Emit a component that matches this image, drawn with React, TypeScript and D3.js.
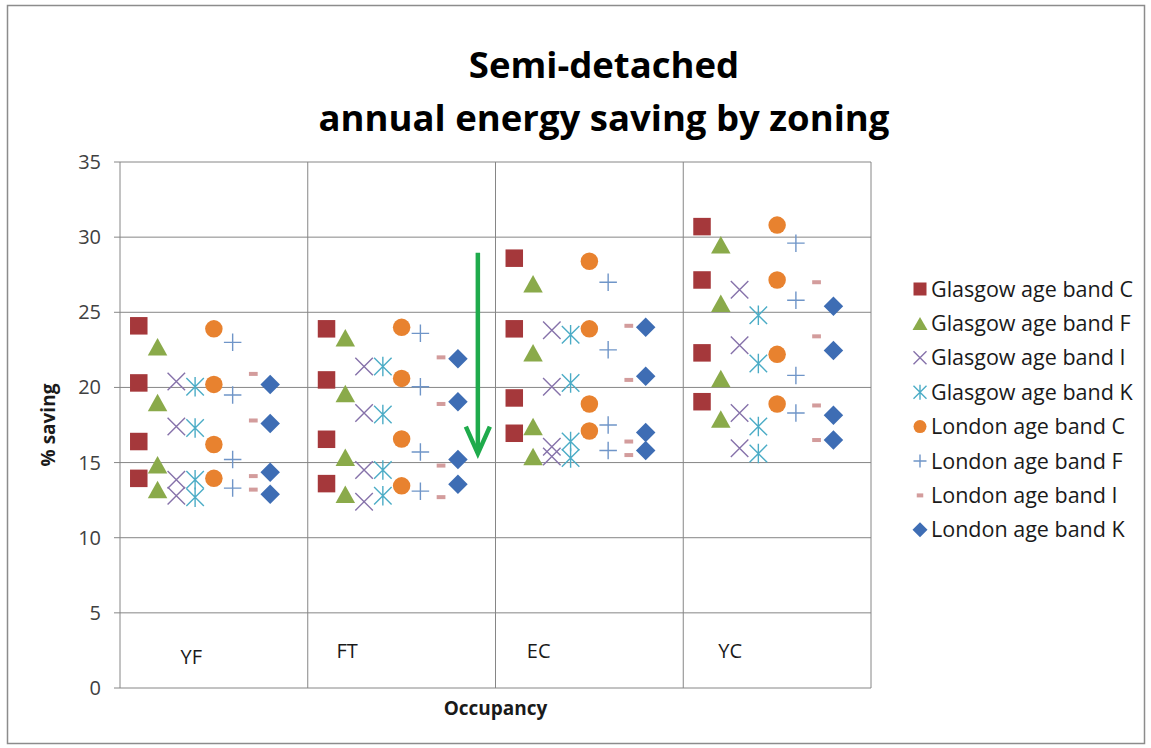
import * as d3 from "d3";

const categories = ["YF", "FT", "EC", "YC"];
// where the occupancy text boxes sit, in x units
const categoryLabelX = [0.38, 1.21, 2.23, 3.25];
const categoryLabelY = [1.6, 2.0, 2.0, 2.0];

const seriesNames = [
  "Glasgow age band C",
  "Glasgow age band F",
  "Glasgow age band I",
  "Glasgow age band K",
  "London age band C",
  "London age band F",
  "London age band I",
  "London age band K",
];
const seriesOffsets = [0.1, 0.2, 0.3, 0.4, 0.5, 0.6, 0.71, 0.8];
const seriesShapes = ["square", "triangle", "x", "star", "circle", "plus", "dash", "diamond"];
const seriesColors = ["#a5383b", "#8aaa4a", "#8672aa", "#4bacc6", "#e8822f", "#6f95c8", "#d39c9c", "#3e6db4"];

// four runs per occupancy, per series
const glasgowC = [[24.1, 20.3, 16.4, 13.95], [23.9, 20.5, 16.55, 13.6], [28.6, 23.9, 19.3, 16.95], [30.7, 27.15, 22.3, 19.05]];
const glasgowF = [[22.7, 19.0, 14.85, 13.2], [23.3, 19.6, 15.35, 12.9], [26.9, 22.3, 17.4, 15.4], [29.5, 25.6, 20.6, 17.9]];
const glasgowI = [[20.4, 17.4, 13.85, 12.8], [21.4, 18.3, 14.5, 12.4], [23.8, 20.05, 16.05, 15.4], [26.5, 22.8, 18.3, 15.95]];
const glasgowK = [[20.05, 17.3, 13.85, 12.7], [21.4, 18.2, 14.5, 12.8], [23.5, 20.3, 16.4, 15.3], [24.8, 21.6, 17.4, 15.6]];
const londonC = [[23.9, 20.2, 16.2, 13.95], [24.0, 20.6, 16.57, 13.45], [28.4, 23.9, 18.9, 17.1], [30.8, 27.15, 22.2, 18.9]];
const londonF = [[23.0, 19.5, 15.2, 13.3], [23.6, 20.05, 15.7, 13.1], [27.0, 22.5, 17.5, 15.8], [29.6, 25.8, 20.8, 18.3]];
const londonI = [[20.9, 17.8, 14.1, 13.2], [22.0, 18.9, 14.8, 12.7], [24.1, 20.5, 16.4, 15.5], [27.0, 23.4, 18.8, 16.5]];
const londonK = [[20.2, 17.6, 14.35, 12.9], [21.9, 19.05, 15.2, 13.55], [24.0, 20.75, 17.0, 15.8], [25.4, 22.45, 18.15, 16.5]];
const seriesValues = [glasgowC, glasgowF, glasgowI, glasgowK, londonC, londonF, londonI, londonK];

const yTicks = [0, 5, 10, 15, 20, 25, 30, 35];
const xGrid = [0, 1, 2, 3, 4];

// green arrow drawn on top of the chart
const arrowX = 1.906;
const arrowFrom = 28.96;
const arrowTo = 15.6;

const W = 1151;
const H = 748;
const FONT = "'Open Sans', sans-serif";

function Marker({ shape, color, x, y, s }) {
  const h = s / 2;
  switch (shape) {
    case "square":
      return <rect x={x - h} y={y - h} width={s} height={s} fill={color} />;
    case "triangle":
      return <path d={`M${x},${y - h}L${x + h + 1},${y + h}L${x - h - 1},${y + h}Z`} fill={color} />;
    case "x":
      return <path d={`M${x - h},${y - h}L${x + h},${y + h}M${x + h},${y - h}L${x - h},${y + h}`} stroke={color} strokeWidth={1.4} fill="none" />;
    case "star":
      return (
        <path
          d={`M${x - h},${y - h}L${x + h},${y + h}M${x + h},${y - h}L${x - h},${y + h}M${x},${y - h - 1}L${x},${y + h + 1}`}
          stroke={color}
          strokeWidth={1.4}
          fill="none"
        />
      );
    case "circle":
      return <circle cx={x} cy={y} r={h} fill={color} />;
    case "plus":
      return <path d={`M${x - h},${y}L${x + h},${y}M${x},${y - h}L${x},${y + h}`} stroke={color} strokeWidth={1.4} fill="none" />;
    case "dash":
      return <rect x={x - s * 0.25} y={y - 2} width={s * 0.5} height={4} fill={color} />;
    case "diamond":
      return <path d={`M${x},${y - h - 1}L${x + h + 1},${y}L${x},${y + h + 1}L${x - h - 1},${y}Z`} fill={color} />;
    default:
      return null;
  }
}

export default function App() {
  const left = 120;
  const right = 871;
  const top = 162;
  const bottom = 688;

  const x = d3.scaleLinear().domain([0, 4]).range([left, right]);
  const y = d3.scaleLinear().domain([0, 35]).range([bottom, top]);

  const points = seriesValues.flatMap((groups, si) =>
    groups.flatMap((vals, gi) =>
      vals.map((v, k) => ({ si, px: x(gi + seriesOffsets[si]), py: y(v), key: `${si}-${gi}-${k}` }))
    )
  );

  const ax = x(arrowX);
  const ay1 = y(arrowFrom);
  const ay2 = y(arrowTo);

  return (
    <svg width={W} height={H} style={{ position: "absolute", left: 0, top: 0, background: "#fff" }} fontFamily={FONT}>
      <rect x={7.5} y={5.5} width={1137} height={738} fill="#fff" stroke="#8c8c8c" strokeWidth={1.5} />

      <text x={604} y={78} textAnchor="middle" fontSize={36.5} fontWeight="bold" fill="#000">
        Semi-detached
      </text>
      <text x={604} y={131} textAnchor="middle" fontSize={36.5} fontWeight="bold" fill="#000">
        annual energy saving by zoning
      </text>

      {yTicks.map((t) => (
        <g key={t}>
          <line x1={left} x2={right} y1={y(t)} y2={y(t)} stroke="#868686" strokeWidth={1} />
          <line x1={left - 6} x2={left} y1={y(t)} y2={y(t)} stroke="#868686" strokeWidth={1} />
          <text x={left - 19} y={y(t)} dy="0.35em" textAnchor="end" fontSize={20} fill="#404040">
            {t}
          </text>
        </g>
      ))}
      {xGrid.map((g) => (
        <line key={g} x1={x(g)} x2={x(g)} y1={top} y2={bottom} stroke="#868686" strokeWidth={1} />
      ))}

      {categories.map((c, i) => (
        <text key={c} x={x(categoryLabelX[i])} y={y(categoryLabelY[i])} textAnchor="middle" fontSize={20} fill="#1a1a1a">
          {c}
        </text>
      ))}

      {points.map((p) => (
        <Marker key={p.key} shape={seriesShapes[p.si]} color={seriesColors[p.si]} x={p.px} y={p.py} s={17.5} />
      ))}

      <text
        transform={`translate(55,${(top + bottom) / 2}) rotate(-90)`}
        textAnchor="middle"
        fontSize={19}
        fontWeight="bold"
        fill="#1a1a1a"
      >
        % saving
      </text>
      <text x={(left + right) / 2} y={715} textAnchor="middle" fontSize={19} fontWeight="bold" fill="#1a1a1a">
        Occupancy
      </text>

      <line x1={ax} x2={ax} y1={ay1} y2={ay2 - 2} stroke="#1fab4c" strokeWidth={4.5} />
      <path d={`M${ax - 12},${ay2 - 27}L${ax},${ay2}L${ax + 12},${ay2 - 27}`} stroke="#1fab4c" strokeWidth={4.5} fill="none" />

      {seriesNames.map((n, i) => {
        const ly = 289 + i * 34.4;
        return (
          <g key={n}>
            <Marker shape={seriesShapes[i]} color={seriesColors[i]} x={920} y={ly} s={13} />
            <text x={931} y={ly} dy="0.35em" fontSize={21.5} fill="#1a1a1a">
              {n}
            </text>
          </g>
        );
      })}
    </svg>
  );
}
